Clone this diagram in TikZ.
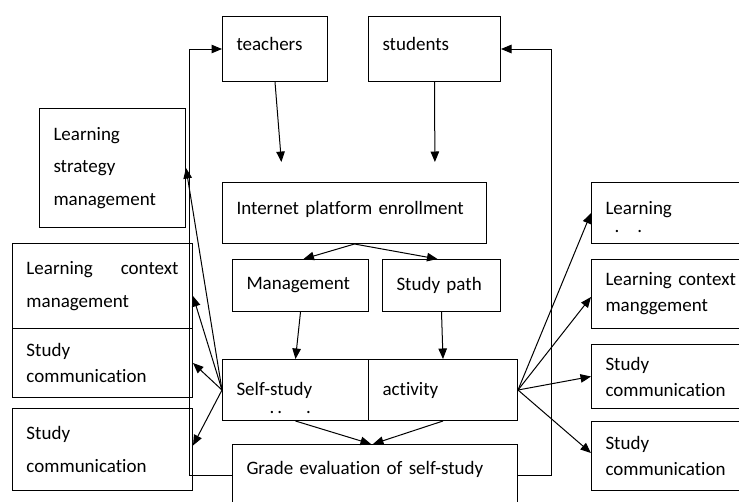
\documentclass[tikz,border=0pt]{standalone}
\usepackage{fontspec}
\setmainfont{Carlito}[Ligatures=NoCommon]
\usetikzlibrary{arrows.meta}

\begin{document}
\begin{tikzpicture}[x=1pt, y=-1pt,
  box/.style={draw, line width=1pt, anchor=north west, align=left,
    inner xsep=14pt, inner ysep=0pt, font=\fontsize{19pt}{32.5pt}\selectfont},
  tight/.style={font=\fontsize{19pt}{26pt}\selectfont},
  arr/.style={line width=1pt, -{Triangle[length=10.5pt,width=8.5pt]}}]
  \clip (0,0) rectangle (739,501);
  % top row
  \node[box, text width=77pt, minimum height=65pt, text depth=10pt] (teach) at (222,16) {teachers};
  \node[box, text width=104pt, minimum height=65pt, text depth=10pt] (stud) at (368,16) {students};
  \node[box, text width=236pt, minimum height=61pt, text depth=10pt] (inet) at (222,182) {Internet platform enrollment};
  \node[box, text width=108pt, minimum height=52pt] (mgmt) at (232,259) {Management};
  \node[box, text width=90pt, minimum height=52pt] (path) at (382,259) {Study path};
  \node[box, text width=118pt, minimum height=61pt] (self) at (222,359)
    {\rlap{\hspace{33pt}\raisebox{-18pt}[0pt][0pt]{.\,.\hspace{24pt}.}}Self-study};
  \node[box, text width=121pt, minimum height=61pt] (act) at (368,359) {activity};
  \node[box, text width=257pt, minimum height=80pt] (grade) at (232,444) {Grade evaluation of self-study\\\mbox{}};

  % left column
  \node[box, text width=118pt, minimum height=119pt] (lsm) at (39,108) {Learning\\strategy\\management};
  \node[box, text width=152pt, minimum height=85pt] (lcm) at (12,243) {Learning\hfill context\\management};
  \node[box, tight, text width=152pt, minimum height=69pt] (scl1) at (12,328) {Study\\communication};
  \node[box, text width=152pt, minimum height=82pt] (scl2) at (12,408) {Study\\communication};

  % right column
  \node[box, text width=142pt, minimum height=61pt, text depth=10pt] (rl) at (591,182)
    {\rlap{\hspace{9pt}\raisebox{-18pt}[0pt][0pt]{.\hspace{18pt}.}}Learning};
  \node[box, tight, text width=142pt, minimum height=69pt] (rlcm) at (591,259) {Learning context\\manggement};
  \node[box, tight, text width=142pt, minimum height=64pt] (scr1) at (591,344) {Study\\communication};
  \node[box, tight, text width=142pt, minimum height=69pt] (scr2) at (591,421) {Study\\communication};

  \draw[arr, shorten >=20pt] (teach.south) -- ([xshift=61pt]inet.north west);
  \draw[arr, shorten >=20pt] (stud.south) -- ([xshift=-52pt]inet.north east);
  \draw[arr] (inet.south) -- ([xshift=3pt]mgmt.north);
  \draw[arr] (inet.south) -- ([xshift=-4pt]path.north);
  \draw[arr] (mgmt.south) -- (self.north);
  \draw[arr] (path.south) -- (act.north);
  \draw[arr] (self.south) -- ([xshift=-4pt]grade.north);
  \draw[arr] (act.south) -- ([xshift=-2pt]grade.north);

  \draw[arr] (self.west) -- (lsm.east);
  \draw[arr] (self.west) -- ([yshift=-10pt]lcm.east);
  \draw[arr] (self.west) -- (scl1.east);
  \draw[arr] (self.west) -- ([yshift=4pt]scl2.east);

  \draw[arr] (act.east) -- (rl.west);
  \draw[arr] (act.east) -- ([yshift=-3pt]rlcm.west);
  \draw[arr] (act.east) -- (scr1.west);
  \draw[arr] (act.east) -- ([yshift=3pt]scr2.west);

  \draw[arr] ([yshift=9pt]grade.west) -- ++(-43,0) |- (teach.west);
  \draw[arr] ([yshift=9pt]grade.east) -- ++(33,0) |- (stud.east);
\end{tikzpicture}
\end{document}
